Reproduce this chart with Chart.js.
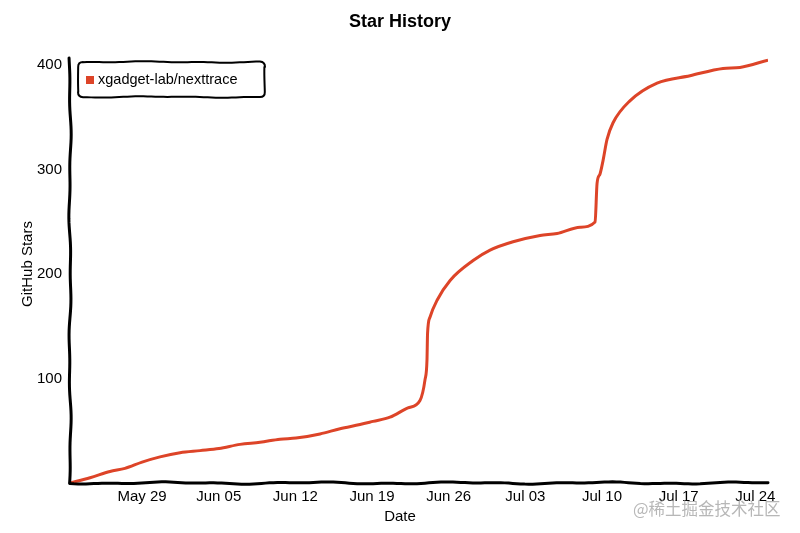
<!DOCTYPE html>
<html>
<head>
<meta charset="utf-8">
<script src="https://cdn.jsdelivr.net/npm/chart.js@4"></script>
<style>
  html, body { margin: 0; padding: 0; background: #fff; }
  #wrap { position: relative; width: 800px; height: 533px; }
  #watermark {
    position: absolute; left: 633px; top: 496px;
    font: 16.5px "Noto Sans CJK SC", sans-serif; color: rgba(170, 170, 170, 0.85);
    white-space: nowrap;
  }
</style>
</head>
<body>
<div id="wrap">
  <canvas id="chart" width="800" height="533"></canvas>
  <div id="watermark">@稀土掘金技术社区</div>
</div>
<script>
// days since 2022-05-22
const days = [0.42, 2.25, 4.07, 5.44, 7.0, 8.64, 10.47, 12.29, 14.03, 15.95, 17.77, 19.6,
  21.06, 23.25, 25.08, 26.9, 28.09, 29.64, 31.28, 32.38, 32.84, 33.02, 33.07, 33.3, 33.94,
  35.13, 37.23, 38.78, 40.88, 43.35, 44.9, 47.0, 48.37, 48.55, 48.82, 49.1, 49.46, 50.01,
  51.55, 54.03, 57.04, 60.05, 61.6, 64.16];
const stars = [0, 5, 11, 14, 20, 25, 29, 31, 33, 37, 39, 42,
  43, 47, 52, 56, 59, 63, 72, 79, 99, 118, 143, 159, 175,
  194, 213, 223, 231, 237, 239, 245, 250, 287, 296, 309, 329, 345,
  366, 383, 390, 397, 398, 405];
const tickDays = [7, 14, 21, 28, 35, 42, 49, 56, 63];
const tickLabels = ['May 29', 'Jun 05', 'Jun 12', 'Jun 19', 'Jun 26', 'Jul 03', 'Jul 10', 'Jul 17', 'Jul 24'];
const starTicks = [100, 200, 300, 400];
const repoName = 'xgadget-lab/nexttrace';

const lineColor = 'rgb(221, 68, 40)';
const fontFamily = '"Liberation Sans", Arial, sans-serif';

// shaky pen stroke between two points
function wobblyLine(ctx, x1, y1, x2, y2, amp, seed) {
  const len = Math.hypot(x2 - x1, y2 - y1);
  const steps = Math.max(2, Math.round(len / 4));
  const nx = -(y2 - y1) / len;
  const ny = (x2 - x1) / len;
  for (let i = 0; i <= steps; i++) {
    const t = i / steps;
    const off = amp * (Math.sin(t * len / 23 + seed) * 0.6 + Math.sin(t * len / 9 + seed * 2) * 0.4);
    const px = x1 + (x2 - x1) * t + nx * off;
    const py = y1 + (y2 - y1) * t + ny * off;
    if (i === 0) ctx.moveTo(px, py); else ctx.lineTo(px, py);
  }
}

const sketchPlugin = {
  id: 'sketch',
  afterDraw(chart) {
    const { ctx, chartArea } = chart;
    const { left, right, top, bottom } = chartArea;
    ctx.save();

    // title and axis titles, centred on the canvas
    ctx.fillStyle = '#000';
    ctx.font = 'bold 18px ' + fontFamily;
    ctx.textAlign = 'center';
    ctx.textBaseline = 'middle';
    ctx.fillText('Star History', 400, 22);

    ctx.font = '15px ' + fontFamily;
    ctx.fillText('Date', 400, 517);
    ctx.save();
    ctx.translate(28, 264);
    ctx.rotate(-Math.PI / 2);
    ctx.fillText('GitHub Stars', 0, 0);
    ctx.restore();

    // axes
    ctx.strokeStyle = '#000';
    ctx.lineWidth = 3;
    ctx.lineCap = 'round';
    ctx.beginPath();
    wobblyLine(ctx, left, top, left, bottom, 1.2, 1.3);
    ctx.stroke();
    ctx.beginPath();
    wobblyLine(ctx, left, bottom, right, bottom, 1.2, 0.4);
    ctx.stroke();

    // legend box
    const bx = left + 8, by = top + 4, bw = 187, bh = 35, r = 5;
    ctx.lineWidth = 2;
    ctx.beginPath();
    wobblyLine(ctx, bx + r, by, bx + bw - r, by, 0.8, 2.1);
    ctx.quadraticCurveTo(bx + bw, by, bx + bw, by + r);
    wobblyLine(ctx, bx + bw, by + r, bx + bw, by + bh - r, 0.8, 0.7);
    ctx.quadraticCurveTo(bx + bw, by + bh, bx + bw - r, by + bh);
    wobblyLine(ctx, bx + bw - r, by + bh, bx + r, by + bh, 0.8, 3.3);
    ctx.quadraticCurveTo(bx, by + bh, bx, by + bh - r);
    wobblyLine(ctx, bx, by + bh - r, bx, by + r, 0.8, 1.9);
    ctx.quadraticCurveTo(bx, by, bx + r, by);
    ctx.stroke();

    ctx.fillStyle = lineColor;
    ctx.fillRect(bx + 8, by + 14, 8, 8);
    ctx.fillStyle = '#000';
    ctx.font = '14.5px ' + fontFamily;
    ctx.textAlign = 'left';
    ctx.fillText(chart.data.datasets[0].label, bx + 20, by + 18);
    ctx.restore();
  }
};

new Chart(document.getElementById('chart'), {
  type: 'line',
  data: {
    datasets: [{
      label: repoName,
      data: days.map((d, i) => ({ x: d, y: stars[i] })),
      borderColor: lineColor,
      borderWidth: 3,
      pointRadius: 0,
      tension: 0.4,
      cubicInterpolationMode: 'monotone',
      fill: false,
    }],
  },
  options: {
    responsive: false,
    animation: false,
    layout: { padding: { top: 58, right: 32, left: 0, bottom: 0 } },
    plugins: {
      legend: { display: false },
      title: { display: false },
      tooltip: { enabled: false },
    },
    scales: {
      x: {
        type: 'linear',
        min: days[0],
        max: days[days.length - 1],
        grid: { display: false, drawTicks: false },
        border: { display: false },
        afterBuildTicks(scale) {
          scale.ticks = tickDays.map(v => ({ value: v }));
        },
        afterFit(scale) { scale.height = 50; },
        ticks: {
          padding: 5,
          maxRotation: 0,
          autoSkip: false,
          color: '#000',
          font: { family: fontFamily, size: 15 },
          callback: (v) => tickLabels[tickDays.indexOf(v)] ?? '',
        },
      },
      y: {
        min: 0,
        max: 407,
        grid: { display: false, drawTicks: false },
        border: { display: false },
        afterBuildTicks(scale) {
          scale.ticks = starTicks.map(v => ({ value: v }));
        },
        afterFit(scale) { scale.width = 70; },
        ticks: {
          padding: 8,
          autoSkip: false,
          color: '#000',
          font: { family: fontFamily, size: 15 },
        },
      },
    },
  },
  plugins: [sketchPlugin],
});
</script>
</body>
</html>
